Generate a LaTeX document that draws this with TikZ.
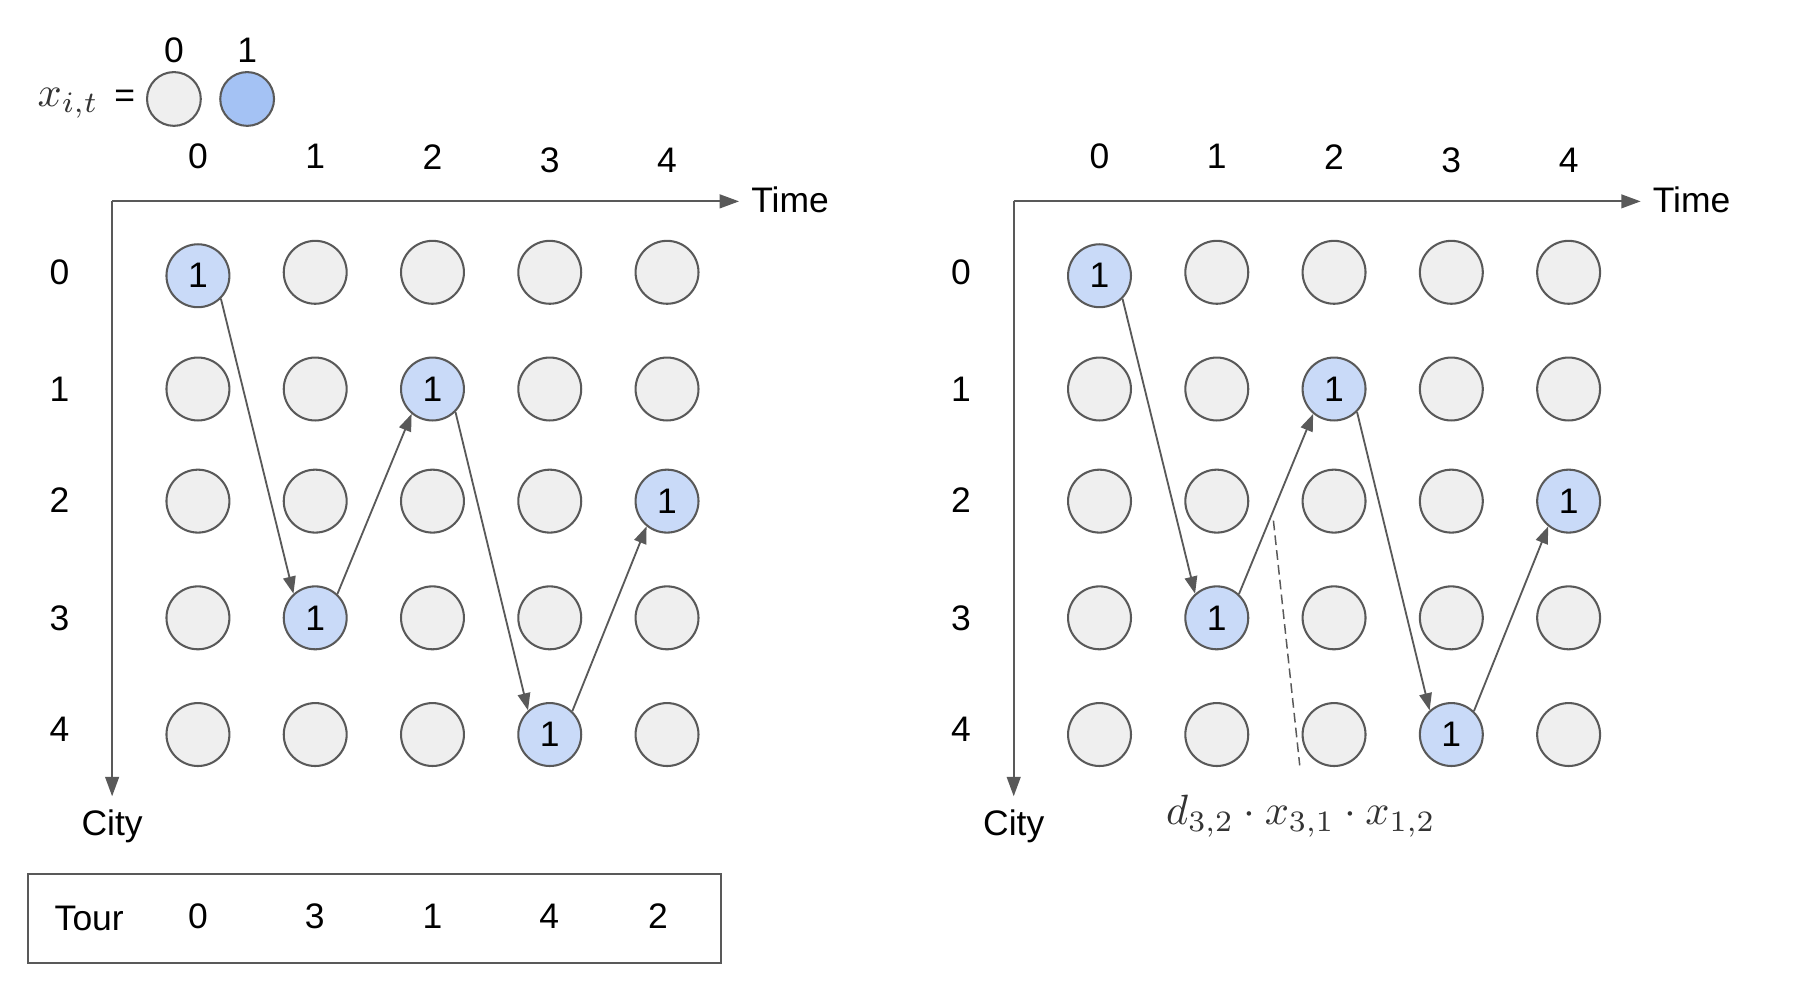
\RequirePackage{fix-cm}
\documentclass[tikz,border=0pt]{standalone}
\usepackage[no-math]{fontspec}
\newfontfamily\arial{Liberation Sans}
\usetikzlibrary{arrows.meta}
\definecolor{cfill}{HTML}{EFEFEF}
\definecolor{cline}{HTML}{595959}
\definecolor{cblue}{HTML}{C9DAF8}
\definecolor{cblueL}{HTML}{A4C2F4}
\definecolor{cmath}{HTML}{333333}
\begin{document}
\begin{tikzpicture}[x=1pt,y=-1pt,
  lbl/.style={font=\arial\fontsize{31}{36}\selectfont, inner sep=0pt},
  offdot/.style={circle, draw=cline, fill=cfill, line width=1.8pt, minimum size=55pt, inner sep=0pt},
  ondot/.style={offdot, fill=cblue, font=\arial\fontsize{31}{36}\selectfont},
  axisline/.style={draw=cline, line width=1.8pt, -{Triangle[length=17pt,width=12pt]}},
  link/.style={draw=cline, line width=1.6pt, -{Triangle[length=15pt,width=11pt]}},
  mth/.style={font=\normalsize, scale=3.7, text=cmath, inner sep=0pt}]
\path[use as bounding box] (0,0) rectangle (1568,877.5);

% legend
\node[lbl] (eq) at (109,86) {=};
\node[mth, anchor=base east] (xit) at (87,93) {$x_{i,t}$};
\node[offdot, minimum size=47pt] (l0) at (152,86.5) {};
\node[offdot, fill=cblueL, minimum size=47pt] (l1) at (216,86.5) {};
\node[lbl] (l0t) at (152,44) {0};
\node[lbl] (l1t) at (216,44) {1};

\foreach \p/\ox in {L/0, R/788} {
  \coordinate (\p o) at (\ox+98,176);
  \coordinate (\p t) at (\ox+646,176);
  \coordinate (\p c) at (\ox+98,696);
  \draw[axisline] (\p o) -- (\p t);
  \draw[axisline] (\p o) -- (\p c);
  \node[lbl] (\p time) at (\ox+690.5,175) {Time};
  \node[lbl, anchor=base] (\p city) at (\ox+98,730) {City};
  \foreach \r/\ly in {0/238,1/340,2/437,3/540,4/637}
    \node[lbl] (\p row\r) at (\ox+52,\ly) {\r};
  \foreach \c/\cx/\cy/\tr in {0/173/137/0, 1/275.5/137/3, 2/378/137/1, 3/480.5/140/4, 4/583/140/2} {
    \node[lbl] (\p col\c) at (\ox+\cx,\cy) {\c};
    \foreach \r/\ry in {0/238,1/340,2/438,3/540,4/642} {
      \ifnum\r=\tr\relax
        \ifnum\r=0\relax
          \node[ondot] (\p-\c-\r) at (\ox+\cx,241) {1};
        \else
          \node[ondot] (\p-\c-\r) at (\ox+\cx,\ry) {1};
        \fi
      \else
        \node[offdot] (\p-\c-\r) at (\ox+\cx,\ry) {};
      \fi
    }
  }
  \draw[link] (\p-0-0.-45) -- (\p-1-3.132);
  \draw[link] (\p-1-3.47) -- (\p-2-1.230);
  \draw[link] (\p-2-1.-45) -- (\p-3-4.132);
  \draw[link] (\p-3-4.46) -- (\p-4-2.231);
}

% tour box
\node[draw=cline, line width=1.8pt, minimum width=605.5pt, minimum height=77.5pt, inner sep=0pt] (tourbox) at (327.25,802.75) {};
\node[lbl] (tourlbl) at (78,803) {Tour};
\foreach \v/\tx [count=\k] in {0/173, 3/275, 1/378, 4/480, 2/575}
  \node[lbl] (tour\k) at (\tx,801) {\v};

% dashed distance line and formula
\coordinate (dA) at (1113,455);
\coordinate (dB) at (1136,669);
\draw[cline, line width=1.3pt, dash pattern=on 8.5pt off 4.5pt] (dA) -- (dB);
\node[mth, anchor=base] (cost) at (1137,721) {$d_{3,2}\cdot x_{3,1}\cdot x_{1,2}$};
\end{tikzpicture}
\end{document}
